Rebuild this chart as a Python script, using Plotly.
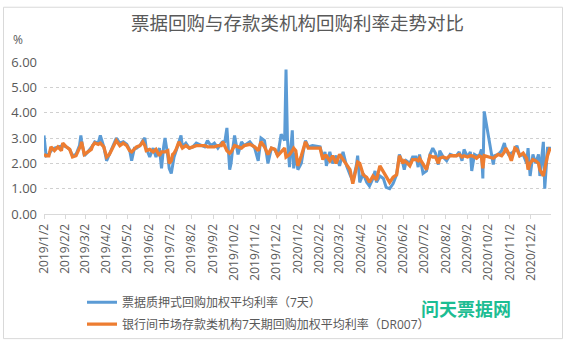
import plotly.graph_objects as go

# ---------------- data ----------------
dates = [
    # 2019
    "2019-01-02", "2019-01-05", "2019-01-09", "2019-01-12", "2019-01-17", "2019-01-22", "2019-01-27", "2019-01-29",
    "2019-02-03", "2019-02-08", "2019-02-12", "2019-02-17", "2019-02-22", "2019-02-24", "2019-02-25",
    "2019-03-01", "2019-03-06", "2019-03-11", "2019-03-13", "2019-03-16", "2019-03-21", "2019-03-24", "2019-03-29",
    "2019-04-02", "2019-04-06", "2019-04-11", "2019-04-16", "2019-04-21", "2019-04-26",
    "2019-05-01", "2019-05-05", "2019-05-08", "2019-05-12", "2019-05-15", "2019-05-20", "2019-05-24", "2019-05-27", "2019-05-29",
    "2019-06-03", "2019-06-08", "2019-06-12", "2019-06-17", "2019-06-20", "2019-06-23", "2019-06-25", "2019-06-29",
    "2019-07-01", "2019-07-04", "2019-07-06", "2019-07-08", "2019-07-11", "2019-07-15", "2019-07-18", "2019-07-20", "2019-07-25", "2019-07-30",
    "2019-08-04", "2019-08-09", "2019-08-16", "2019-08-21", "2019-08-25", "2019-08-30",
    "2019-09-04", "2019-09-09", "2019-09-14", "2019-09-16", "2019-09-19", "2019-09-22", "2019-09-26", "2019-09-28", "2019-09-30",
    "2019-10-03", "2019-10-08", "2019-10-13", "2019-10-17", "2019-10-25",
    "2019-11-01", "2019-11-06", "2019-11-10", "2019-11-15", "2019-11-20", "2019-11-25", "2019-11-30",
    "2019-12-04", "2019-12-09", "2019-12-14", "2019-12-16", "2019-12-18", "2019-12-21", "2019-12-25", "2019-12-27", "2019-12-30",
    # 2020
    "2020-01-02", "2020-01-07", "2020-01-10", "2020-01-13", "2020-01-17", "2020-01-23",
    "2020-02-03", "2020-02-07", "2020-02-10", "2020-02-12", "2020-02-17", "2020-02-21", "2020-02-26",
    "2020-03-02", "2020-03-07", "2020-03-12", "2020-03-17", "2020-03-21", "2020-03-26", "2020-03-28", "2020-03-31",
    "2020-04-05", "2020-04-10", "2020-04-14", "2020-04-19", "2020-04-22", "2020-04-24", "2020-04-29",
    "2020-05-04", "2020-05-08", "2020-05-13", "2020-05-18", "2020-05-23", "2020-05-27",
    "2020-06-01", "2020-06-03", "2020-06-06", "2020-06-11", "2020-06-15", "2020-06-20", "2020-06-23", "2020-06-25", "2020-06-30",
    "2020-07-05", "2020-07-10", "2020-07-14", "2020-07-18", "2020-07-22", "2020-07-24", "2020-07-29",
    "2020-08-03", "2020-08-08", "2020-08-13", "2020-08-17", "2020-08-21", "2020-08-25", "2020-08-28",
    "2020-09-02", "2020-09-06", "2020-09-08", "2020-09-12", "2020-09-15", "2020-09-19", "2020-09-22", "2020-09-24", "2020-09-26",
    "2020-10-09", "2020-10-11", "2020-10-16", "2020-10-21", "2020-10-25", "2020-10-27", "2020-10-31",
    "2020-11-04", "2020-11-09", "2020-11-12", "2020-11-16", "2020-11-21", "2020-11-26", "2020-11-28",
    "2020-12-01", "2020-12-05", "2020-12-09", "2020-12-13", "2020-12-15", "2020-12-20", "2020-12-22", "2020-12-26", "2020-12-29", "2020-12-31",
]

# 票据质押式回购加权平均利率（7天）
bill_repo_7d = [
    3.10, 2.30, 2.35, 2.50, 2.60, 2.65, 2.70, 2.70,
    2.65, 2.55, 2.30, 2.35, 2.70, 3.10, 2.90,
    2.30, 2.45, 2.60, 2.70, 2.85, 2.80, 3.10, 2.65,
    2.10, 2.35, 2.70, 3.00, 2.80, 2.85,
    2.75, 2.55, 2.10, 2.60, 2.60, 2.70, 2.90, 3.00, 2.60,
    2.25, 2.60, 2.25, 2.60, 1.80, 2.65, 3.00, 2.30,
    1.80, 1.60, 2.00, 2.25, 2.50, 2.80, 3.10, 2.65, 2.80, 2.60,
    2.65, 2.80, 2.70, 2.65, 2.90, 2.70,
    2.80, 2.60, 2.80, 2.85, 2.85, 3.40, 1.75, 2.00, 2.50,
    3.10, 2.35, 2.85, 2.70, 2.85,
    2.60, 2.10, 3.00, 2.90, 2.00, 2.60, 2.55,
    2.30, 3.15, 2.90, 5.70, 3.00, 1.85, 3.30, 1.80, 2.40,
    1.75, 2.00, 2.50, 2.90, 2.65, 2.70,
    2.65, 2.20, 2.45, 1.90, 2.45, 2.00, 2.30,
    1.90, 2.45, 1.90, 1.55, 1.30, 1.90, 2.30, 1.25,
    1.60, 1.25, 1.10, 1.40, 1.70, 1.25, 1.50,
    1.40, 1.05, 1.00, 1.20, 1.55, 2.35,
    2.00, 1.75, 2.10, 2.00, 2.25, 2.25, 1.85, 2.35, 1.60,
    1.70, 2.35, 2.60, 2.40, 1.95, 2.50, 2.25,
    2.10, 2.35, 2.30, 2.30, 2.45, 2.10, 2.55,
    2.25, 2.45, 1.70, 2.35, 2.30, 2.30, 2.55, 1.40, 4.05,
    1.95, 2.30, 2.35, 2.50, 2.80, 2.55, 2.35,
    2.40, 2.50, 2.70, 2.30, 2.35, 2.00, 2.60,
    1.50, 2.35, 2.00, 2.35, 1.50, 2.85, 1.00, 2.60, 2.60, 2.60,
]

# 银行间市场存款类机构7天期回购加权平均利率（DR007）
dr007 = [
    2.35, 2.30, 2.30, 2.65, 2.50, 2.65, 2.50, 2.80,
    2.65, 2.55, 2.25, 2.30, 2.60, 2.70, 2.85,
    2.35, 2.45, 2.55, 2.70, 2.80, 2.75, 2.80, 2.65,
    2.25, 2.35, 2.65, 2.90, 2.70, 2.80,
    2.70, 2.50, 2.45, 2.55, 2.65, 2.70, 2.85, 2.70, 2.50,
    2.55, 2.45, 2.55, 2.30, 2.45, 2.45, 2.45, 2.50,
    2.00, 2.10, 2.35, 2.40, 2.55, 2.85, 2.70, 2.60, 2.70, 2.60,
    2.65, 2.70, 2.70, 2.70, 2.65, 2.65,
    2.65, 2.70, 2.70, 2.85, 2.70, 2.50, 2.40, 2.45, 2.55,
    2.70, 2.65, 2.60, 2.70, 2.75,
    2.65, 2.50, 2.85, 2.65, 2.35, 2.60, 2.55,
    2.30, 2.45, 2.60, 2.25, 2.30, 2.35, 2.50, 2.60, 2.50,
    1.90, 2.30, 2.60, 2.85, 2.60, 2.60,
    2.60, 2.15, 2.30, 2.30, 2.10, 2.30, 2.00,
    2.35, 2.15, 2.00, 1.75, 1.20, 1.85, 2.05, 2.00,
    1.55, 1.45, 1.25, 1.50, 1.40, 1.35, 1.90,
    1.65, 1.45, 1.25, 1.45, 1.55, 2.30,
    2.00, 2.10, 2.05, 1.90, 2.15, 2.15, 2.10, 2.20, 1.95,
    1.75, 2.30, 2.25, 2.25, 2.00, 2.20, 2.25,
    2.20, 2.30, 2.30, 2.30, 2.35, 2.25, 2.30,
    2.25, 2.30, 2.30, 2.25, 2.20, 2.30, 2.25, 1.80, 2.30,
    2.20, 2.25, 2.35, 2.30, 2.45, 2.60, 2.40,
    2.10, 2.60, 2.55, 2.30, 2.40, 2.20, 1.75,
    2.00, 2.15, 2.10, 2.00, 1.75, 1.50, 1.80, 2.30, 2.55, 2.50,
]

series_names = ["票据质押式回购加权平均利率（7天）", "银行间市场存款类机构7天期回购加权平均利率（DR007）"]
tick_dates = [f"{y}-{m:02d}-02" for y in (2019, 2020) for m in range(1, 13)]
tick_text = [f"{y}/{m}/2" for y in (2019, 2020) for m in range(1, 13)]
y_ticks = [0, 1, 2, 3, 4, 5, 6]
y_tick_text = ["0.00", "1.00", "2.00", "3.00", "4.00", "5.00", "6.00"]

# ---------------- figure ----------------
W, H = 565, 351
ML, MR, MT, MB = 44, 14, 62, 128
PW, PH = W - ML - MR, H - MT - MB


def px(xp):
    return (xp - ML) / PW


def py(yp):
    return (H - MB - yp) / PH


FONT = "Open Sans, Noto Sans CJK SC, sans-serif"
GREY = "#595959"

fig = go.Figure()
fig.add_trace(go.Scatter(x=dates, y=bill_repo_7d, mode="lines", name=series_names[0],
                         legendgroup="a", line=dict(color="#5B9BD5", width=3)))
fig.add_trace(go.Scatter(x=dates, y=dr007, mode="lines", name=series_names[1],
                         legendgroup="b", line=dict(color="#ED7D31", width=3.3)))

fig.update_layout(
    width=W, height=H,
    margin=dict(l=ML, r=MR, t=MT, b=MB),
    paper_bgcolor="white", plot_bgcolor="white",
    font=dict(family=FONT, color=GREY, size=12),
    title=dict(text="票据回购与存款类机构回购利率走势对比", x=0.5, xref="paper", xanchor="center",
               y=1 - 24 / H, yref="container", yanchor="middle",
               font=dict(family="Noto Sans CJK SC, sans-serif", size=18.5, color=GREY)),
    xaxis=dict(type="date", range=["2019-01-02", "2020-12-31"],
               tickmode="array", tickvals=tick_dates, ticktext=tick_text, tickangle=-90,
               ticks="outside", ticklen=4, tickcolor="#d9d9d9", tickwidth=1,
               showline=True, linecolor="#d9d9d9", linewidth=1,
               showgrid=False, zeroline=False,
               tickfont=dict(size=12, color=GREY, family=FONT)),
    yaxis=dict(range=[0, 6], tickmode="array", tickvals=y_ticks, ticktext=y_tick_text,
               showgrid=True, gridcolor="#d0d0d0", griddash="dot", gridwidth=1,
               zeroline=False, showline=False, ticks="", ticklabelstandoff=6,
               tickfont=dict(size=13, color=GREY, family=FONT)),
    legend=dict(orientation="v", x=px(82), y=py(301), xanchor="left", yanchor="top",
                traceorder="grouped", tracegroupgap=3, bgcolor="rgba(0,0,0,0)",
                font=dict(size=12, color=GREY, family=FONT)),
    showlegend=True,
)

fig.add_annotation(text="%", x=px(18), y=py(38), xref="paper", yref="paper",
                   showarrow=False, xanchor="center", yanchor="middle",
                   font=dict(size=12, color=GREY, family=FONT))
fig.add_annotation(text="<b>问天票据网</b>", x=px(466), y=py(323), xref="paper", yref="paper",
                   showarrow=False, xanchor="center", yanchor="middle",
                   font=dict(size=18, color="#1CBD93", family="Noto Sans CJK SC, sans-serif"))
fig.add_shape(type="rect", xref="paper", yref="paper",
              x0=px(3.5), x1=px(562.5), y0=py(355), y1=py(4),
              line=dict(color="#d9d9d9", width=1), fillcolor="rgba(0,0,0,0)", layer="below")

fig.write_html("out.html")
